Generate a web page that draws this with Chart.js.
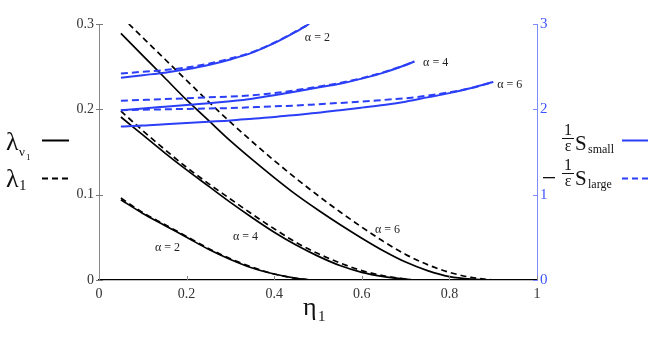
<!DOCTYPE html>
<html>
<head>
<meta charset="utf-8">
<script src="https://cdn.jsdelivr.net/npm/chart.js@4"></script>
<style>
  body { margin: 0; background: #fff; }
  canvas { display: block; }
</style>
</head>
<body>
<canvas id="mainChart" width="654" height="338"></canvas>
<script>
// eta_1 grids
const eta2 = [0.05, 0.1, 0.15, 0.2, 0.25, 0.3, 0.35, 0.4, 0.45, 0.48];
const eta4 = [0.05, 0.1, 0.15, 0.2, 0.25, 0.3, 0.35, 0.4, 0.45, 0.5, 0.55, 0.6, 0.65, 0.7, 0.72];
const eta6 = [0.05, 0.1, 0.15, 0.2, 0.25, 0.3, 0.35, 0.4, 0.45, 0.5, 0.55, 0.6, 0.65, 0.7, 0.75, 0.8, 0.85, 0.9];
const eta6d = [0.068, 0.1, 0.15, 0.2, 0.25, 0.3, 0.35, 0.4, 0.45, 0.5, 0.55, 0.6, 0.65, 0.7, 0.75, 0.8, 0.85, 0.9];

// lambda_{nu1} (solid) and lambda_1 (dashed), left axis
const lamNu2 = [0.094, 0.078, 0.064, 0.050, 0.036, 0.024, 0.014, 0.007, 0.002, 0];
const lam1_2 = [0.096, 0.079, 0.065, 0.051, 0.037, 0.025, 0.015, 0.007, 0.002, 0];
const lamNu4 = [0.191, 0.170, 0.149, 0.129, 0.110, 0.091, 0.073, 0.056, 0.041, 0.028, 0.017, 0.009, 0.004, 0.001, 0];
const lam1_4 = [0.198, 0.175, 0.153, 0.132, 0.113, 0.095, 0.077, 0.060, 0.044, 0.031, 0.020, 0.011, 0.005, 0.001, 0];
const lamNu6 = [0.289, 0.263, 0.237, 0.211, 0.187, 0.163, 0.141, 0.120, 0.100, 0.082, 0.065, 0.049, 0.034, 0.021, 0.011, 0.004, 0.001, 0];
const lam1_6 = [0.300, 0.284, 0.259, 0.234, 0.209, 0.185, 0.162, 0.140, 0.119, 0.099, 0.080, 0.062, 0.045, 0.030, 0.018, 0.009, 0.003, 0];

// (1/eps) s_small (solid) and -(1/eps) s_large (dashed), right axis
const sSmall2 = [2.37, 2.40, 2.43, 2.47, 2.52, 2.585, 2.665, 2.775, 2.91, 3.0];
const sLarge2 = [2.42, 2.44, 2.46, 2.49, 2.535, 2.595, 2.67, 2.78, 2.915, 3.0];
const sSmall4 = [1.99, 2.01, 2.03, 2.05, 2.07, 2.095, 2.125, 2.165, 2.21, 2.255, 2.30, 2.36, 2.43, 2.52, 2.56];
const sLarge4 = [2.10, 2.11, 2.12, 2.13, 2.14, 2.15, 2.165, 2.19, 2.225, 2.265, 2.31, 2.365, 2.435, 2.52, 2.56];
const sSmall6 = [1.80, 1.81, 1.825, 1.84, 1.855, 1.87, 1.89, 1.91, 1.935, 1.96, 1.99, 2.02, 2.05, 2.09, 2.14, 2.19, 2.25, 2.32];
const sLarge6 = [1.99, 1.995, 2.0, 2.005, 2.01, 2.015, 2.025, 2.035, 2.045, 2.06, 2.075, 2.09, 2.11, 2.13, 2.16, 2.20, 2.25, 2.32];

const xTicks = [0, 0.2, 0.4, 0.6, 0.8, 1];
const yTicks = [0, 0.1, 0.2, 0.3];
const y2Ticks = [0, 1, 2, 3];

// alpha labels: [text, eta, value, axis]
const alphaLabels = [
    ['α = 2', 0.47, 2.84, 'y2'],
    ['α = 4', 0.74, 2.54, 'y2'],
    ['α = 6', 0.909, 2.285, 'y2'],
    ['α = 2', 0.128, 0.0375, 'y'],
    ['α = 4', 0.306, 0.0504, 'y'],
    ['α = 6', 0.630, 0.0586, 'y']
];

const BLUE = '#2b3ff6';
const SERIF = '"Liberation Serif", "DejaVu Serif", serif';

const pts = (xs, ys) => xs.map((x, i) => ({ x: x, y: ys[i] }));

const line = (xs, ys, color, dashed, axis) => ({
    data: pts(xs, ys),
    borderColor: color,
    borderWidth: color === BLUE ? 2 : 1.7,
    borderDash: dashed ? (color === BLUE ? [7, 4] : [6, 4]) : [],
    yAxisID: axis,
    pointRadius: 0,
    cubicInterpolationMode: 'monotone',
    fill: false
});

const datasets = [
    line(eta6, sSmall6, BLUE, false, 'y2'),
    line(eta6, sLarge6, BLUE, true, 'y2'),
    line(eta4, sSmall4, BLUE, false, 'y2'),
    line(eta4, sLarge4, BLUE, true, 'y2'),
    line(eta2, sSmall2, BLUE, false, 'y2'),
    line(eta2, sLarge2, BLUE, true, 'y2'),
    line(eta2, lamNu2, '#000', false, 'y'),
    line(eta2, lam1_2, '#000', true, 'y'),
    line(eta4, lamNu4, '#000', false, 'y'),
    line(eta4, lam1_4, '#000', true, 'y'),
    line(eta6, lamNu6, '#000', false, 'y'),
    line(eta6d, lam1_6, '#000', true, 'y')
];

// draws inward ticks, curve labels and the side legends
const decorations = {
    id: 'decorations',
    afterDraw(chart) {
        const ctx = chart.ctx;
        const { x, y, y2 } = chart.scales;
        const a = chart.chartArea;
        ctx.save();
        ctx.lineWidth = 1;

        ctx.strokeStyle = '#777';
        yTicks.forEach(v => { const p = Math.round(y.getPixelForValue(v)) + 0.5; ctx.beginPath(); ctx.moveTo(a.left - 3, p); ctx.lineTo(a.left + 4, p); ctx.stroke(); });
        ctx.strokeStyle = '#888';
        xTicks.forEach(v => { const p = Math.round(x.getPixelForValue(v)) + 0.5; ctx.beginPath(); ctx.moveTo(p, a.bottom); ctx.lineTo(p, a.bottom - 4); ctx.stroke(); });
        ctx.strokeStyle = '#7d8bff';
        y2Ticks.forEach(v => { const p = Math.round(y2.getPixelForValue(v)) + 0.5; ctx.beginPath(); ctx.moveTo(a.right - 4, p); ctx.lineTo(a.right + 1, p); ctx.stroke(); });

        // alpha labels
        ctx.fillStyle = '#222';
        ctx.font = '12px ' + SERIF;
        ctx.textAlign = 'left';
        ctx.textBaseline = 'middle';
        alphaLabels.forEach(([t, ex, v, ax]) => {
            ctx.fillText(t, x.getPixelForValue(ex), chart.scales[ax].getPixelForValue(v));
        });

        // x-axis title
        ctx.fillStyle = '#111';
        ctx.textBaseline = 'alphabetic';
        ctx.font = '26px ' + SERIF;
        ctx.fillText('η', 303, 315);
        ctx.font = '15px ' + SERIF;
        ctx.fillText('1', 318, 321);

        // left legend
        ctx.font = '26px ' + SERIF;
        ctx.fillText('λ', 6, 150);
        ctx.font = '13px ' + SERIF;
        ctx.fillText('ν', 19, 156);
        ctx.font = '9px ' + SERIF;
        ctx.fillText('1', 26, 160);
        ctx.font = '26px ' + SERIF;
        ctx.fillText('λ', 6, 187);
        ctx.font = '15px ' + SERIF;
        ctx.fillText('1', 19, 190);
        ctx.strokeStyle = '#000';
        ctx.lineWidth = 2;
        ctx.beginPath(); ctx.moveTo(42, 140.5); ctx.lineTo(69, 140.5); ctx.stroke();
        ctx.setLineDash([6, 4]);
        ctx.beginPath(); ctx.moveTo(42, 178.5); ctx.lineTo(69, 178.5); ctx.stroke();
        ctx.setLineDash([]);

        // right legend
        const frac = (cx, top) => {
            ctx.font = '16px ' + SERIF;
            ctx.textAlign = 'center';
            ctx.fillText('1', cx, top + 11);
            ctx.fillText('ε', cx, top + 27);
            ctx.lineWidth = 1;
            ctx.beginPath(); ctx.moveTo(cx - 6, top + 14.5); ctx.lineTo(cx + 6, top + 14.5); ctx.stroke();
            ctx.textAlign = 'left';
        };
        ctx.strokeStyle = '#111';
        frac(568, 124);
        ctx.font = '21px ' + SERIF;
        ctx.fillText('S', 575, 150);
        ctx.font = '12px ' + SERIF;
        ctx.fillText('small', 588, 153);
        frac(568, 159);
        ctx.fillRect(543, 177, 12, 1.3);
        ctx.font = '21px ' + SERIF;
        ctx.fillText('S', 575, 185);
        ctx.font = '12px ' + SERIF;
        ctx.fillText('large', 588, 188);
        ctx.strokeStyle = BLUE;
        ctx.lineWidth = 2;
        ctx.beginPath(); ctx.moveTo(622, 140.5); ctx.lineTo(648, 140.5); ctx.stroke();
        ctx.setLineDash([6, 4]);
        ctx.beginPath(); ctx.moveTo(622, 178.5); ctx.lineTo(648, 178.5); ctx.stroke();
        ctx.restore();
    }
};

new Chart(document.getElementById('mainChart').getContext('2d'), {
    type: 'line',
    data: { datasets: datasets },
    plugins: [decorations],
    options: {
        responsive: false,
        animation: false,
        layout: { padding: { top: 24, left: 0, right: 0, bottom: 0 } },
        plugins: { legend: { display: false }, tooltip: { enabled: false } },
        scales: {
            x: {
                type: 'linear', min: 0, max: 1,
                afterBuildTicks: s => { s.ticks = xTicks.map(v => ({ value: v })); },
                afterFit: s => { s.height = 58; },
                grid: { display: false, drawTicks: false },
                border: { display: true, color: '#000', width: 1.2 },
                ticks: { color: '#333', padding: 6, font: { family: SERIF, size: 14 }, maxRotation: 0, callback: v => String(v) }
            },
            y: {
                type: 'linear', position: 'left', min: 0, max: 0.3,
                afterBuildTicks: s => { s.ticks = yTicks.map(v => ({ value: v })); },
                afterFit: s => { s.width = 99; },
                grid: { display: false, drawTicks: false },
                border: { display: true, color: '#888', width: 1 },
                ticks: { color: '#333', padding: 5, font: { family: SERIF, size: 14 }, callback: v => String(v) }
            },
            y2: {
                type: 'linear', position: 'right', min: 0, max: 3,
                afterBuildTicks: s => { s.ticks = y2Ticks.map(v => ({ value: v })); },
                afterFit: s => { s.width = 117; },
                grid: { display: false, drawTicks: false },
                border: { display: true, color: '#7d8bff', width: 1 },
                ticks: { color: '#3d55ff', padding: 3, font: { family: SERIF, size: 15 }, callback: v => String(v) }
            }
        }
    }
});
</script>
</body>
</html>
